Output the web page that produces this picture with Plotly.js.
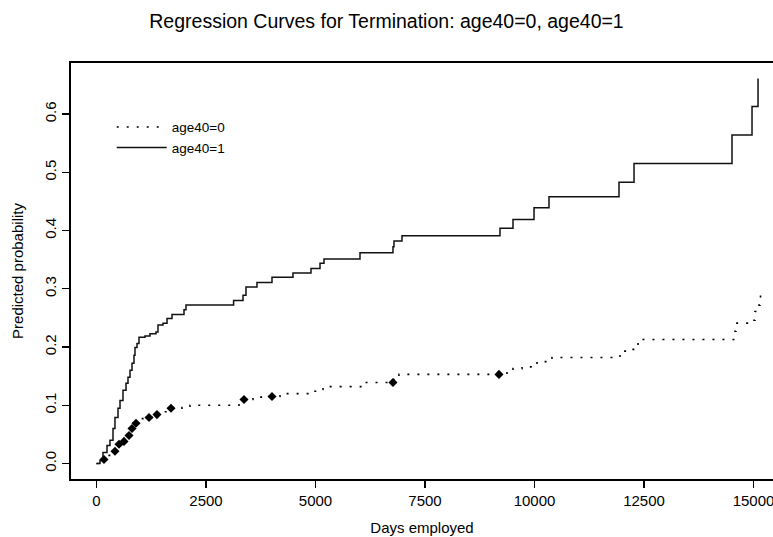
<!DOCTYPE html>
<html>
<head>
<meta charset="utf-8">
<script src="https://cdn.plot.ly/plotly-3.0.1.min.js"></script>
<style>html,body{margin:0;padding:0;background:#fff;overflow:hidden;}</style>
</head>
<body>
<div id="chart" style="width:773px;height:537px;"></div>
<script>
// ---- data (step functions) ----
const seriesNames = ["age40=0", "age40=1"];

// age40=0 (dotted)
const days0 = [0, 148, 240, 422, 514, 628, 742, 811, 902, 993, 1199, 1381, 1541, 1701, 1952,
  2135, 3253, 3368, 3573, 4007, 4189, 4852, 5034, 5171, 6062, 6792, 6906, 9372, 9509, 9715,
  10057, 10400, 11952, 12135, 12317, 12363, 14578, 14600, 15011, 15034, 15126, 15148, 15160];
const prob0 = [0, .007, .014, .021, .033, .038, .048, .060, .069, .077, .079, .084, .089, .095, .096,
  .100, .103, .110, .114, .115, .120, .124, .127, .132, .139, .144, .153, .158, .163, .166,
  .175, .182, .193, .196, .201, .213, .227, .241, .246, .261, .272, .284, .301];

// days where many tied events in age40=0 make the dots pile up
const tieDays0 = [171, 422, 514, 628, 742, 811, 902, 1199, 1381, 1701, 3368, 4007, 6769, 9189];

// age40=1 (solid)
const days1 = [0, 80, 148, 240, 308, 377, 422, 491, 537, 605, 674, 719, 765, 811, 856,
  879, 925, 970, 1107, 1221, 1358, 1404, 1518, 1610, 1724, 1998, 2043, 3130, 3345, 3413,
  3664, 4007, 4486, 4897, 5103, 5194, 6016, 6769, 6792, 6975, 9212, 9509, 9989, 10331, 11929,
  12272, 14509, 14966, 15103];
const prob1 = [0, .005, .019, .031, .040, .060, .079, .095, .108, .126, .138, .148, .160, .172, .186,
  .199, .206, .217, .219, .223, .226, .238, .241, .249, .256, .264, .272, .280, .289, .303,
  .311, .320, .327, .335, .344, .351, .362, .372, .382, .391, .404, .419, .439, .458, .483,
  .515, .564, .613, .661];

const xTicks = [0, 2500, 5000, 7500, 10000, 12500, 15000];
const yTicks = [0.0, 0.1, 0.2, 0.3, 0.4, 0.5, 0.6];

// value of the step function at a given day
function stepAt(xs, ys, d) {
  let v = ys[0];
  for (let i = 0; i < xs.length; i++) { if (xs[i] <= d) v = ys[i]; }
  return v;
}
const tieProb0 = tieDays0.map(d => stepAt(days0, prob0, d));

const FONT = "Liberation Sans, Arial, Helvetica, sans-serif";

const traces = [
  {
    x: days0, y: prob0, type: "scatter", mode: "lines", name: seriesNames[0],
    line: {shape: "hv", color: "#000", width: 1.6, dash: "2px,8px"}
  },
  {
    x: days1, y: prob1, type: "scatter", mode: "lines", name: seriesNames[1],
    line: {shape: "hv", color: "#111", width: 1.5}
  },
  {
    x: tieDays0, y: tieProb0, type: "scatter", mode: "markers", showlegend: false,
    hoverinfo: "skip",
    marker: {symbol: "diamond", size: 7, color: "#000"}
  }
];

const layout = {
  width: 773, height: 537,
  margin: {l: 71, r: 0, t: 63, b: 58, pad: 0},
  paper_bgcolor: "#fff", plot_bgcolor: "#fff",
  font: {family: FONT, size: 15, color: "#000"},
  title: {text: "Regression Curves for Termination: age40=0, age40=1",
          font: {family: FONT, size: 19.5, color: "#000"},
          x: 0.5, xref: "container", xanchor: "center", y: 0.96, yanchor: "middle"},
  showlegend: true,
  legend: {x: 0.058, y: 0.883, xanchor: "left", yanchor: "top",
           bgcolor: "rgba(0,0,0,0)", borderwidth: 0,
           font: {family: FONT, size: 13.5, color: "#000"},
           itemwidth: 50, tracegroupgap: 0},
  xaxis: {
    range: [-582, 15445], tickvals: xTicks, ticktext: xTicks.map(String),
    showgrid: false, zeroline: false, showline: true, mirror: true,
    linecolor: "#000", linewidth: 1.6,
    ticks: "outside", ticklen: 7, tickwidth: 1.3, tickcolor: "#000",
    ticklabeloverflow: "allow",
    tickfont: {family: FONT, size: 15, color: "#000"},
    title: {text: "Days employed", font: {family: FONT, size: 15, color: "#000"}, standoff: 15}
  },
  yaxis: {
    range: [-0.0266, 0.6877], tickvals: yTicks, ticktext: yTicks.map(v => v.toFixed(1)),
    showgrid: false, zeroline: false, showline: true, mirror: false,
    linecolor: "#000", linewidth: 1.6,
    ticks: "outside", ticklen: 7, tickwidth: 1.3, tickcolor: "#000",
    tickangle: -90,
    tickfont: {family: FONT, size: 15, color: "#000"},
    title: {text: "Predicted probability", font: {family: FONT, size: 15, color: "#000"}, standoff: 15}
  }
};

Plotly.newPlot("chart", traces, layout, {displayModeBar: false, staticPlot: true});
</script>
</body>
</html>
